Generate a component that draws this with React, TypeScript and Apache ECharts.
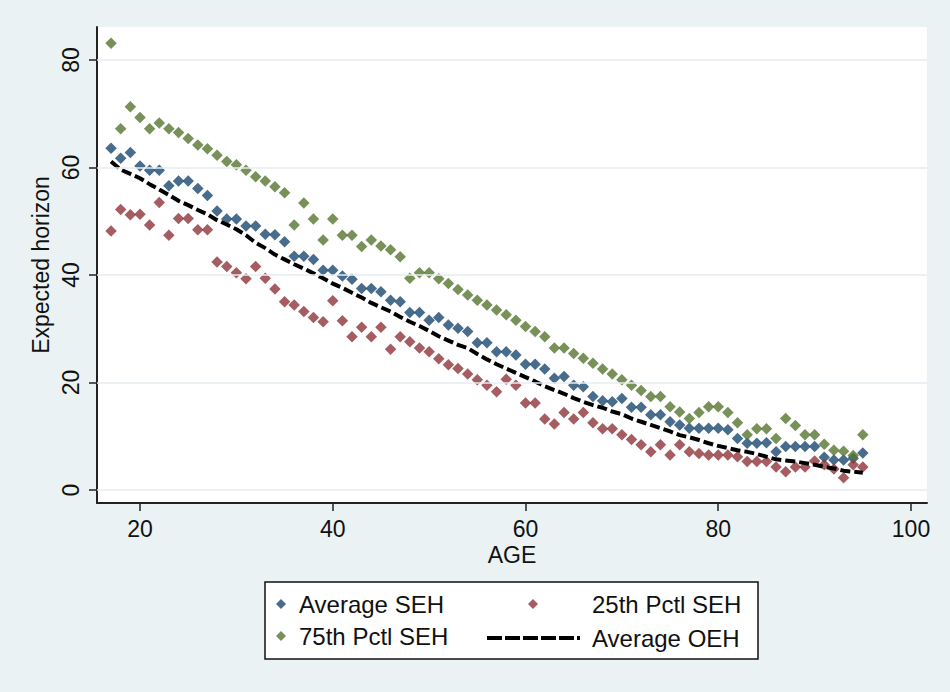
import React, { useEffect, useRef } from "react";
import * as echarts from "echarts";

const ages: number[] = [];
for (let a = 17; a <= 95; a++) ages.push(a);

const avgSEH = [
  63.6, 61.7, 62.8, 60.3, 59.5, 59.5, 56.6, 57.5, 57.5, 56.1,
  54.8, 51.9, 50.4, 50.4, 49.1, 49.1, 47.6, 47.5, 46.2, 43.5,
  43.5, 42.9, 40.9, 40.9, 39.8, 39.2, 37.5, 37.5, 36.9, 35.3,
  35.0, 33.0, 33.0, 31.6, 32.1, 30.7, 30.1, 29.5, 27.4, 27.4,
  25.7, 25.7, 25.1, 23.4, 23.4, 22.5, 20.8, 21.1, 19.5, 19.2,
  17.4, 16.6, 16.4, 17.0, 15.4, 15.4, 14.0, 14.0, 12.7, 12.1,
  11.5, 11.5, 11.5, 11.5, 11.2, 9.6, 8.7, 8.7, 8.8, 7.1,
  8.1, 8.1, 8.1, 8.1, 6.1, 5.6, 5.6, 5.9, 6.9,
];

const p25SEH = [
  48.2, 52.2, 51.2, 51.3, 49.3, 53.5, 47.4, 50.5, 50.5, 48.4,
  48.4, 42.4, 41.6, 40.4, 39.3, 41.6, 39.4, 37.4, 35.0, 34.4,
  33.2, 32.1, 31.3, 35.2, 31.5, 28.5, 30.3, 28.5, 30.3, 26.2,
  28.5, 27.6, 26.4, 25.7, 24.4, 23.3, 22.6, 21.6, 20.5, 19.5,
  18.3, 20.6, 19.5, 16.2, 16.2, 13.2, 12.3, 14.4, 13.2, 14.4,
  12.5, 11.4, 11.4, 10.3, 9.4, 8.4, 7.1, 8.4, 6.5, 8.4,
  7.1, 6.8, 6.5, 6.5, 6.5, 6.2, 5.3, 5.3, 5.3, 4.3,
  3.4, 4.3, 4.3, 5.4, 4.7, 3.9, 2.3, 4.7, 4.3,
];

const p75SEH = [
  83.1, 67.2, 71.3, 69.3, 67.2, 68.3, 67.2, 66.5, 65.4, 64.2,
  63.5, 62.3, 61.1, 60.5, 59.5, 58.3, 57.5, 56.4, 55.3, 49.3,
  53.4, 50.4, 46.5, 50.4, 47.4, 47.4, 45.3, 46.5, 45.4, 44.7,
  43.4, 39.4, 40.4, 40.4, 39.3, 38.4, 37.3, 36.3, 35.3, 34.4,
  33.5, 32.6, 31.6, 30.4, 29.5, 28.5, 26.4, 26.4, 25.4, 24.5,
  23.6, 22.5, 21.6, 20.5, 19.5, 18.5, 17.4, 17.4, 15.5, 14.5,
  13.3, 14.4, 15.5, 15.5, 14.4, 12.5, 10.3, 11.4, 11.4, 9.6,
  13.3, 12.0, 10.3, 10.3, 8.5, 7.4, 7.2, 6.4, 10.3,
];

const avgOEH = [
  61.1, 59.6, 58.8, 58.0, 56.9, 55.9, 54.9, 53.8, 53.0, 52.1,
  51.3, 50.2, 49.4, 48.5, 47.4, 46.0, 45.0, 43.8, 42.9, 42.0,
  41.2, 40.3, 39.4, 38.4, 37.6, 36.7, 35.8, 34.8, 34.0, 33.2,
  32.2, 31.3, 30.5, 29.6, 28.6, 27.8, 27.0, 26.4, 25.3, 24.3,
  23.4, 22.6, 21.8, 21.0, 20.2, 19.3, 18.6, 17.9, 17.1, 16.4,
  15.8, 15.3, 14.6, 14.1, 13.3, 12.7, 12.1, 11.5, 10.9, 10.2,
  9.8, 9.3, 8.7, 8.2, 7.8, 7.4, 7.1, 6.7, 6.2, 5.7,
  5.5, 5.3, 5.0, 4.7, 4.3, 4.0, 3.6, 3.4, 3.2,
];

const xTicks = [20, 40, 60, 80, 100];
const yTicks = [0, 20, 40, 60, 80];

const seriesNames = ["Average SEH", "25th Pctl SEH", "75th Pctl SEH", "Average OEH"];

const NAVY = "#1a476f";
const MAROON = "#90353b";
const GREEN = "#55752f";
const FONT = "'Liberation Sans', Arial, sans-serif";

const pair = (vals: number[]) => ages.map((a, i) => [a, vals[i]]);

// legend icon shapes
const DIAMOND_ICON = "path://M5,0L10,5L5,10L0,5Z";
function dashIcon(): string {
  let d = "";
  let x = 0;
  for (let k = 0; k < 5; k++) {
    d += `M${x},0L${x + 15},0L${x + 15},4L${x},4Z`;
    x += 18;
  }
  d += `M${x},0L${x + 3},0L${x + 3},4L${x},4Z`;
  return "path://" + d;
}

export default function App() {
  const ref = useRef<HTMLDivElement>(null);

  useEffect(() => {
    document.body.style.margin = "0";
    if (!ref.current) return;
    const chart = echarts.init(ref.current, undefined, { renderer: "svg" });

    const legendText = { color: "#111", fontSize: 24, fontFamily: FONT, lineHeight: 24 };
    const legendBase = {
      orient: "horizontal" as const,
      padding: 0,
      itemHeight: 10,
      selectedMode: false,
      symbolKeepAspect: true,
      itemStyle: { borderWidth: 0 },
      textStyle: legendText,
    };

    const option: any = {
      animation: false,
      backgroundColor: "#eaf2f3",
      textStyle: { fontFamily: FONT },
      grid: {
        left: 97,
        right: 23,
        top: 27,
        bottom: 189,
        show: true,
        backgroundColor: "#ffffff",
        borderWidth: 0,
      },
      xAxis: {
        type: "value",
        min: 15.54,
        max: 101.66,
        name: "AGE",
        nameLocation: "middle",
        nameGap: 42,
        nameMoveOverlap: false,
        nameTextStyle: { color: "#111", fontSize: 23, fontFamily: FONT, lineHeight: 20 },
        axisLine: { show: true, onZero: false, lineStyle: { color: "#222", width: 2 } },
        axisTick: { show: true, length: 8, customValues: xTicks, lineStyle: { color: "#222", width: 1.5 } },
        axisLabel: { customValues: xTicks, margin: 16, lineHeight: 20, color: "#111", fontSize: 23, fontFamily: FONT },
        splitLine: { show: false },
      },
      yAxis: {
        type: "value",
        min: -2.42,
        max: 86.14,
        name: "Expected horizon",
        nameLocation: "middle",
        nameRotate: 90,
        nameGap: 45,
        nameMoveOverlap: false,
        nameTextStyle: { color: "#111", fontSize: 23, fontFamily: FONT },
        axisLine: { show: true, onZero: false, lineStyle: { color: "#222", width: 2 } },
        axisTick: { show: true, length: 8, customValues: yTicks, lineStyle: { color: "#222", width: 1.5 } },
        axisLabel: { customValues: yTicks, rotate: 90, margin: 15, color: "#111", fontSize: 23, fontFamily: FONT },
        splitLine: { show: false },
      },
      legend: [
        { ...legendBase, data: [{ name: seriesNames[0], icon: DIAMOND_ICON }], left: 276, top: 592, itemWidth: 26 },
        { ...legendBase, data: [{ name: seriesNames[1], icon: DIAMOND_ICON }], left: 528, top: 592, itemWidth: 108 },
        { ...legendBase, data: [{ name: seriesNames[2], icon: DIAMOND_ICON }], left: 276, top: 624, itemWidth: 26 },
        {
          ...legendBase,
          data: [{ name: seriesNames[3], icon: dashIcon() }],
          left: 487,
          top: 626,
          itemWidth: 107,
          itemHeight: 4,
          itemStyle: { color: "#000", borderWidth: 0 },
        },
      ],
      graphic: [
        {
          type: "rect",
          z: 0,
          shape: { x: 265, y: 582, width: 493, height: 77 },
          style: { fill: "#ffffff", stroke: "#111", lineWidth: 1.5 },
          silent: true,
        },
      ],
      series: [
        {
          type: "line",
          name: "gridlines",
          data: [],
          z: 1,
          silent: true,
          markLine: {
            silent: true,
            symbol: "none",
            label: { show: false },
            lineStyle: { color: "#e4edf0", type: "solid", width: 1.5 },
            data: yTicks.map((v) => ({ yAxis: v })),
          },
        },
        {
          type: "scatter",
          name: seriesNames[0],
          symbol: "diamond",
          symbolSize: 11.5,
          itemStyle: { color: NAVY },
          data: pair(avgSEH),
          clip: false,
        },
        {
          type: "scatter",
          name: seriesNames[1],
          symbol: "diamond",
          symbolSize: 11.5,
          itemStyle: { color: MAROON },
          data: pair(p25SEH),
          clip: false,
        },
        {
          type: "scatter",
          name: seriesNames[2],
          symbol: "diamond",
          symbolSize: 11.5,
          itemStyle: { color: GREEN },
          data: pair(p75SEH),
          clip: false,
        },
        {
          type: "line",
          name: seriesNames[3],
          symbol: "none",
          showSymbol: false,
          itemStyle: { color: "#000" },
          lineStyle: { color: "#000", width: 4, type: [10, 4] },
          data: pair(avgOEH),
        },
      ],
    };

    chart.setOption(option);
    return () => chart.dispose();
  }, []);

  return <div ref={ref} style={{ width: 950, height: 692 }} />;
}
